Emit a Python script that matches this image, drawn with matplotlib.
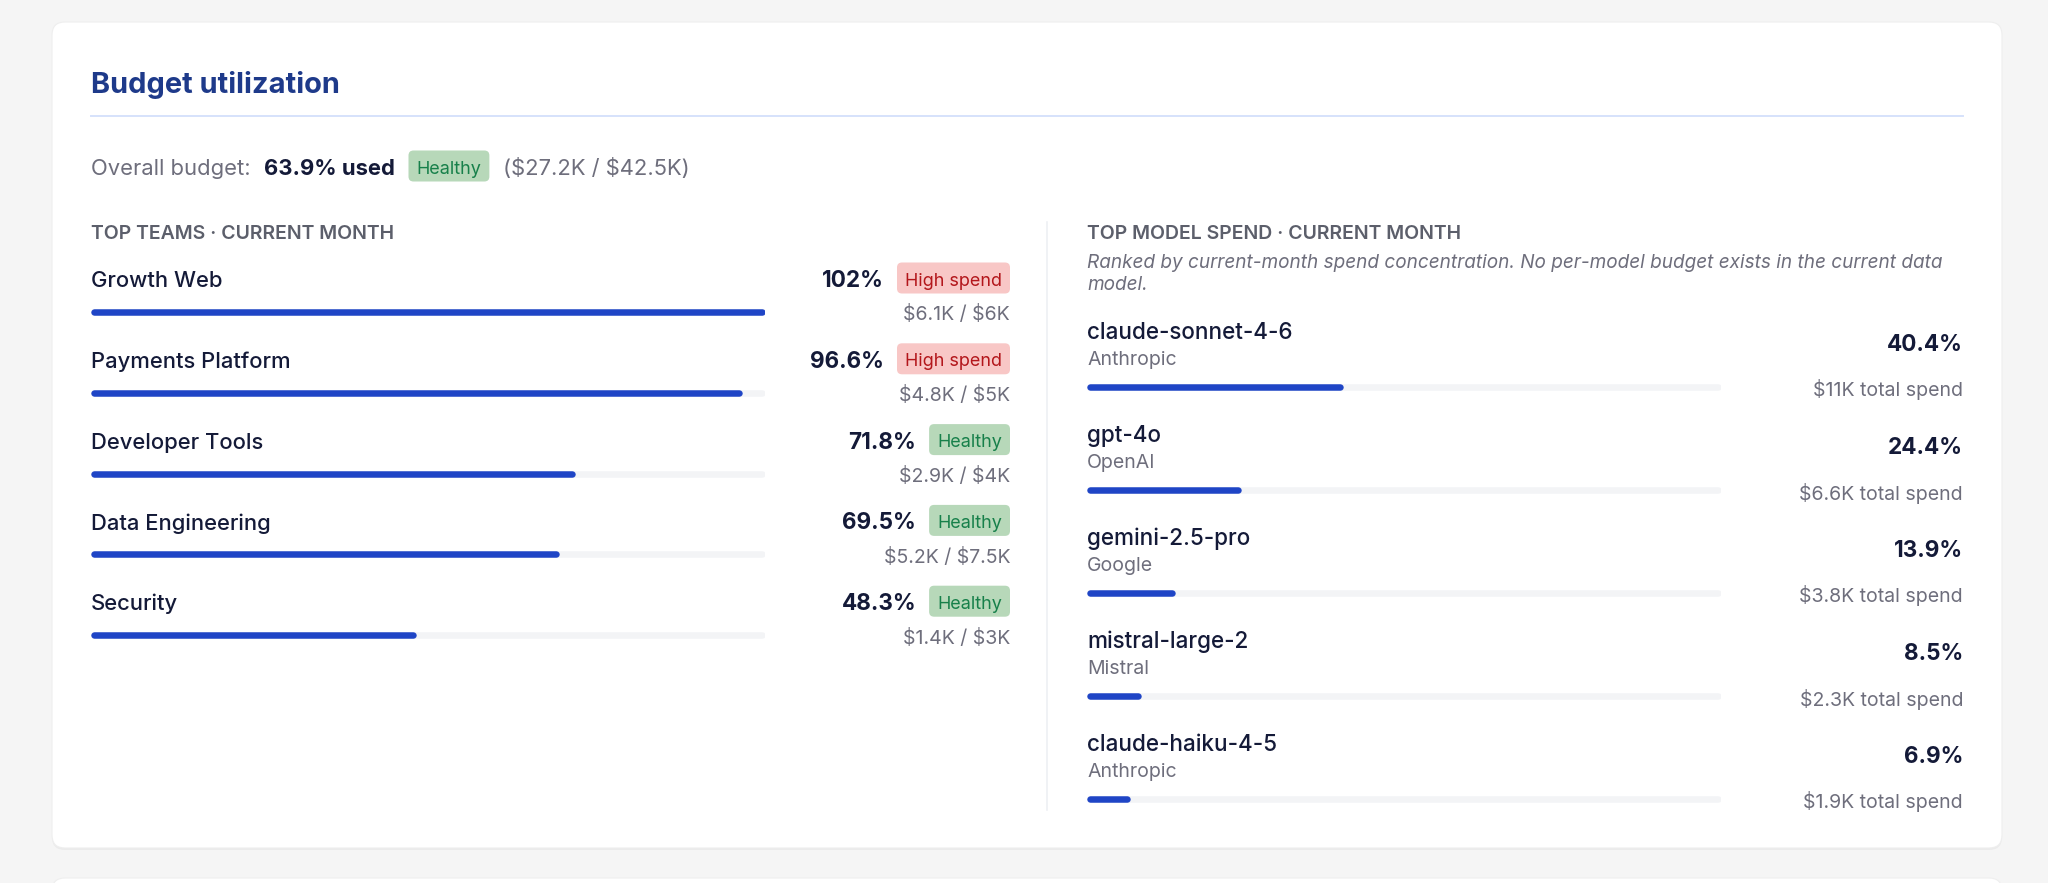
import matplotlib.pyplot as plt
from matplotlib.patches import FancyBboxPatch

plt.rcParams['font.family'] = ['Inter', 'DejaVu Sans']
plt.rcParams['text.parse_math'] = False

W, H = 2048, 883

# overall budget
overall_pct = 63.9
overall_spent = "$27.2K"
overall_budget = "$42.5K"
overall_status = "Healthy"

# top teams
teams = ["Growth Web", "Payments Platform", "Developer Tools", "Data Engineering", "Security"]
team_pct = [102, 96.6, 71.8, 69.5, 48.3]
team_spent = ["$6.1K", "$4.8K", "$2.9K", "$5.2K", "$1.4K"]
team_budget = ["$6K", "$5K", "$4K", "$7.5K", "$3K"]
team_status = ["High spend", "High spend", "Healthy", "Healthy", "Healthy"]

# top models
models = ["claude-sonnet-4-6", "gpt-4o", "gemini-2.5-pro", "mistral-large-2", "claude-haiku-4-5"]
providers = ["Anthropic", "OpenAI", "Google", "Mistral", "Anthropic"]
model_share = [40.4, 24.4, 13.9, 8.5, 6.9]
model_spend = ["$11K", "$6.6K", "$3.8K", "$2.3K", "$1.9K"]

TITLE = "#1e3a8a"
DARK = "#141a38"
GRAY = "#6e6e7c"
HEAD = "#5c5f6b"
BAR = "#1f45c6"
TRACK = "#f3f4f6"
BADGE = {
    "Healthy": ("#b7d8b9", "#17804a"),
    "High spend": ("#f8c7c6", "#b3161b"),
}
DY = 3  # text sits a little lower than its bbox centre


def px(v):
    # pixel size -> points at dpi 100
    return v * 0.72


fig = plt.figure(figsize=(W / 100, H / 100), dpi=100)
fig.patch.set_facecolor("#f5f5f5")
ax = fig.add_axes([0, 0, 1, 1])
ax.set_xlim(0, W)
ax.set_ylim(H, 0)
ax.axis("off")
renderer = fig.canvas.get_renderer()


def width_of(t):
    return t.get_window_extent(renderer).width


def label(x, y, s, size, **kw):
    kw.setdefault("va", "center")
    kw.setdefault("zorder", 3)
    return ax.text(x, y + DY, s, fontsize=px(size), **kw)


# cards
ax.add_patch(FancyBboxPatch((52, 24), 1950, 826, boxstyle="round,pad=0,rounding_size=13",
                            fc="#ebebeb", ec="none", zorder=0))
ax.add_patch(FancyBboxPatch((52, 22), 1950, 826, boxstyle="round,pad=0,rounding_size=13",
                            fc="white", ec="#eeeeee", lw=0.8, zorder=1))
ax.add_patch(FancyBboxPatch((52, 878), 1950, 40, boxstyle="round,pad=0,rounding_size=13",
                            fc="white", ec="#eeeeee", lw=0.8, zorder=1))

label(91, 82, "Budget utilization", 29, fontweight="bold", color=TITLE)
ax.plot([91, 1963], [116, 116], color="#d6e2fb", lw=1.4, zorder=2)


def badge(x, y, text, align="left"):
    bg, fg = BADGE[text]
    t = label(0, y, text, 18, color=fg, zorder=5)
    w = width_of(t) + 16
    x0 = x if align == "left" else x - w
    t.set_x(x0 + 8)
    ax.add_patch(FancyBboxPatch((x0, y - 15.5), w, 31, boxstyle="round,pad=0,rounding_size=5",
                                fc=bg, ec="none", zorder=4))
    return x0, x0 + w


# overall row
y0 = 166
t = label(91, y0, "Overall budget:", 22, color=GRAY)
x = 91 + width_of(t) + 13
t = label(x, y0, f"{overall_pct}% used", 22, fontweight="bold", color=DARK)
x = x + width_of(t) + 14
_, x = badge(x, y0, overall_status)
label(x + 14, y0, f"({overall_spent} / {overall_budget})", 22, color=GRAY)

# section headers
label(91, 231, "TOP TEAMS · CURRENT MONTH", 19.5, fontweight="semibold", color=HEAD)
label(1087, 231, "TOP MODEL SPEND · CURRENT MONTH", 19.5, fontweight="semibold", color=HEAD)
label(1087, 260, "Ranked by current-month spend concentration. No per-model budget exists in the current data",
      19, style="italic", color=GRAY)
label(1087, 282, "model.", 19, style="italic", color=GRAY)

ax.plot([1047, 1047], [222, 810], color="#eef0f4", lw=1.2, zorder=2)

# team rows
team_step = 80.8
name_y = [278 + i * team_step for i in range(len(teams))]
bar_y_t = [312 + i * team_step for i in range(len(teams))]
for i, name in enumerate(teams):
    label(91, name_y[i], name, 22, fontweight="medium", color=DARK)
    bx0, _ = badge(1010, name_y[i], team_status[i], align="right")
    label(bx0 - 13, name_y[i], f"{team_pct[i]:g}%", 22.5, fontweight="bold",
          color=DARK, ha="right")
    label(1010, bar_y_t[i], f"{team_spent[i]} / {team_budget[i]}", 19.5,
          color=GRAY, ha="right")

# model rows
model_step = 103
model_y = [330 + i * model_step for i in range(len(models))]
for i, name in enumerate(models):
    label(1087, model_y[i], name, 22.5, fontweight="medium", color=DARK)
    label(1087, model_y[i] + 27, providers[i], 19.5, color=GRAY)
    label(1963, model_y[i] + 12, f"{model_share[i]}%", 22.5, fontweight="bold",
          color=DARK, ha="right")
    label(1963, model_y[i] + 57, f"{model_spend[i]} total spend", 19.5,
          color=GRAY, ha="right")


def bar_axes(x0, x1, ys, values):
    # axes spanning the bar column, value scale 0..100 across the track
    top, bottom = ys[0] - 20, ys[-1] + 20
    b = fig.add_axes([x0 / W, 1 - bottom / H, (x1 - x0) / W, (bottom - top) / H])
    b.set_xlim(0, 100)
    b.set_ylim(bottom, top)
    b.axis("off")
    lw = 6.5
    cap = (lw / 2) / ((x1 - x0) / 100)
    fill = [min(v, 100) for v in values]
    track = b.hlines(ys, cap, 100 - cap, color=TRACK, lw=px(lw), zorder=1)
    bars = b.hlines(ys, cap, [max(f - cap, cap) for f in fill], color=BAR, lw=px(lw), zorder=2)
    track.set_capstyle("round")
    bars.set_capstyle("round")
    return b


bar_axes(91, 765, bar_y_t, team_pct)
bar_axes(1087, 1721, [y + 57 for y in model_y], model_share)

fig.savefig("out.png", dpi=100, facecolor=fig.get_facecolor())
